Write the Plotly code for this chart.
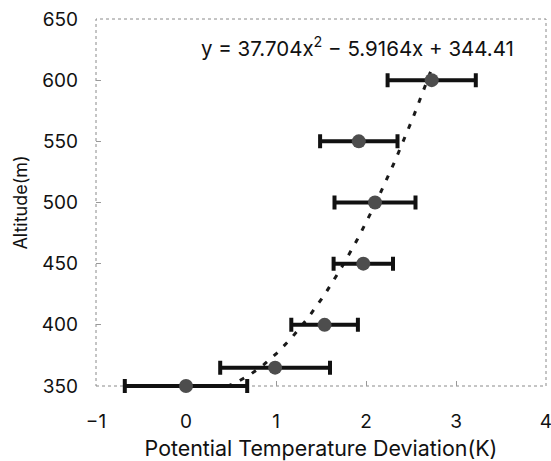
import plotly.graph_objects as go

# Data
deviation = [0.0, 0.99, 1.54, 1.97, 2.10, 1.92, 2.73]
altitude = [350, 365, 400, 450, 500, 550, 600]
deviation_err = [0.68, 0.61, 0.37, 0.33, 0.45, 0.43, 0.49]

# Trendline coefficients (as printed on the chart)
coef_a, coef_b, coef_c = 37.704, -5.9164, 344.41
trend_x = [i / 100 for i in range(0, 274)]
trend_y = [coef_a * x * x + coef_b * x + coef_c for x in trend_x]

x_ticks = [-1, 0, 1, 2, 3, 4]
y_ticks = [350, 400, 450, 500, 550, 600, 650]
y_range = [350, 650]

font_family = "Inter, Liberation Sans, Arial, sans-serif"

fig_w, fig_h = 551, 461
m_l, m_r, m_t, m_b = 96, 5, 19, 60
extra = 15  # px of room below the main axis so the lowest error bar isn't clipped
area_h = fig_h - m_t - m_b
d = extra / area_h
main_h = area_h - extra
y2_low = y_range[0] - (y_range[1] - y_range[0]) * extra / main_h

fig = go.Figure()

fig.add_trace(go.Scatter(
    x=trend_x, y=trend_y, mode="lines", xaxis="x", yaxis="y",
    line=dict(color="#1a1a1a", width=3, dash="5px,9px"),
    hoverinfo="skip", showlegend=False,
))

fig.add_trace(go.Scatter(
    x=deviation, y=altitude, mode="markers", xaxis="x", yaxis="y2",
    marker=dict(size=14, color="#4d4d4d", line=dict(width=0)),
    error_x=dict(type="data", array=deviation_err, visible=True,
                 color="#111111", thickness=4, width=7),
    showlegend=False, cliponaxis=False,
))

fig.add_annotation(
    x=1.9, y=627, xref="x", yref="y",
    text="y = 37.704x<sup>2</sup> − 5.9164x + 344.41",
    showarrow=False, font=dict(size=20.5, color="#111", family=font_family),
)

fig.update_layout(
    width=fig_w, height=fig_h,
    margin=dict(l=m_l, r=m_r, t=m_t, b=m_b, autoexpand=False),
    paper_bgcolor="white", plot_bgcolor="rgba(0,0,0,0)",
    font=dict(family=font_family, color="#111"),
    xaxis=dict(
        range=[-1, 4], tickvals=x_ticks, ticks="inside", ticklen=5, anchor="y",
        tickcolor="#999", showgrid=False, zeroline=False, showline=False,
        tickfont=dict(size=19), ticklabelstandoff=22, automargin=False,
        ticklabeloverflow="allow",
        title=dict(text="Potential Temperature Deviation(K)", font=dict(size=21.4), standoff=24),
    ),
    yaxis=dict(
        range=y_range, tickvals=y_ticks, ticks="inside", ticklen=5,
        domain=[d, 1], anchor="x",
        tickcolor="#999", showgrid=False, zeroline=False, showline=False,
        tickfont=dict(size=19), ticklabelstandoff=17, automargin=False,
        ticklabeloverflow="allow",
        title=dict(text="Altitude(m)", font=dict(size=18), standoff=9),
    ),
    yaxis2=dict(
        range=[y2_low, y_range[1]], domain=[0, 1], anchor="x", visible=False,
        showgrid=False, zeroline=False,
    ),
)

fig.add_shape(type="rect", xref="x domain", yref="y domain", x0=0, x1=1, y0=0, y1=1,
              line=dict(color="#8a8a8a", width=1, dash="dot"), layer="below")

fig.write_html(
    "out.html",
    config={"displayModeBar": False},
    post_script="document.body.style.margin='0';document.documentElement.style.overflow='hidden';",
)
